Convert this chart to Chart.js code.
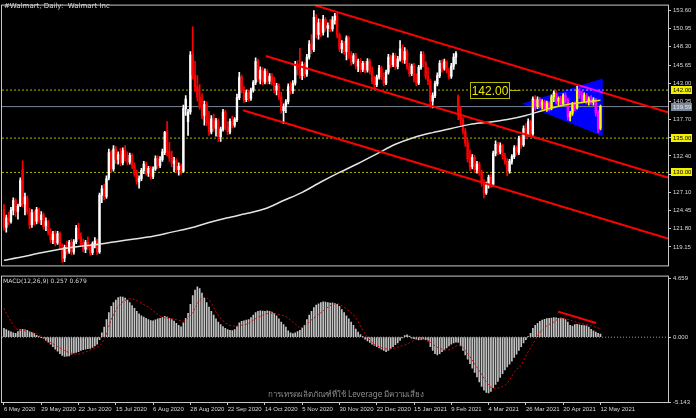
<!DOCTYPE html>
<html>
<head>
<meta charset="utf-8">
<script src="https://cdn.jsdelivr.net/npm/chart.js@4.4.1/dist/chart.umd.min.js"></script>
<style>
  html, body { margin: 0; padding: 0; background: #000; }
  #wrap { position: relative; width: 696px; height: 418px; background: #000; overflow: hidden; }
  #wrap canvas { position: absolute; left: 0; }
  #priceChart { top: 0; }
  #macdChart { top: 271px; }
</style>
</head>
<body>
<div id="wrap">
  <canvas id="priceChart" width="696" height="271"></canvas>
  <canvas id="macdChart" width="696" height="147"></canvas>
</div>
<script>
// daily bars, 6 May 2020 .. 12 May 2021 (index = bar number)
var opens = [
  124.6,122.0,123.4,122.9,124.5,125.9,124.3,125.2,130.4,125.4,
  126.2,124.3,122.4,124.0,122.9,124.5,123.1,123.8,122.2,122.8,
  121.3,120.2,121.0,119.7,121.0,119.3,117.5,119.0,118.5,119.8,
  118.4,119.9,121.9,120.6,119.7,118.8,119.8,119.0,118.3,119.6,
  120.0,118.4,126.7,127.6,126.5,129.2,132.9,130.5,133.4,131.9,
  132.6,131.4,133.2,132.1,131.5,132.5,131.0,129.8,128.6,129.1,
  130.3,131.2,129.9,130.6,129.4,130.5,132.0,131.0,131.9,132.9,
  136.0,133.0,132.2,131.3,131.7,130.4,130.9,130.2,139.3,137.4,
  138.8,147.3,144.2,142.5,141.0,139.6,138.3,139.9,137.3,135.9,
  137.8,136.4,137.5,135.2,136.3,138.8,136.6,135.9,137.4,136.9,
  137.7,140.9,143.9,142.0,140.6,141.6,140.8,142.0,143.1,146.2,
  143.6,144.9,143.2,144.7,143.3,144.0,143.1,142.0,142.6,141.0,
  139.0,139.6,140.3,142.5,141.9,143.0,145.8,145.0,144.1,145.7,
  144.3,146.8,148.7,147.9,152.6,150.1,151.8,150.4,152.3,151.0,
  151.4,150.9,152.2,152.8,150.0,148.0,148.8,147.6,149.6,147.0,
  146.1,147.0,145.5,146.2,145.0,145.9,144.9,146.2,144.7,143.3,
  142.8,143.9,145.2,143.9,143.0,144.6,146.8,145.7,147.0,145.4,
  146.5,148.0,146.4,147.6,145.4,144.4,145.5,143.6,143.0,145.3,
  147.2,145.9,144.0,143.3,140.4,141.2,142.9,144.1,145.9,145.2,
  146.1,144.8,144.0,145.5,146.8,141.0,138.3,137.6,136.0,134.3,
  132.0,130.8,132.2,130.4,131.2,130.0,128.5,127.0,128.2,129.3,
  128.3,132.8,134.1,133.0,133.9,132.4,131.6,130.2,131.6,132.3,
  133.6,132.9,135.0,134.0,136.4,135.5,137.4,135.6,140.7,139.6,
  140.6,139.8,140.3,139.3,140.1,139.4,141.0,141.6,140.4,140.8,
  140.0,141.2,140.5,138.1,138.6,139.9,139.4,141.9,141.3,140.5,
  141.2,140.4,140.7,140.2,140.6,138.7,136.4
];
var highs = [
  125.3,123.8,124.2,124.9,126.3,126.2,125.4,129.2,131.7,127.0,
  126.6,124.8,124.6,124.4,124.9,124.8,124.3,124.1,123.4,123.0,
  121.8,121.4,121.5,121.4,121.3,119.6,119.4,120.0,120.1,120.3,
  120.2,122.3,122.6,121.2,120.3,120.1,120.6,119.5,119.9,120.5,
  120.3,127.0,128.1,128.3,129.5,133.4,133.2,133.9,133.8,133.0,
  133.5,133.6,133.9,133.0,132.8,132.7,131.4,130.3,129.5,130.6,
  131.6,131.5,130.9,130.9,130.8,132.4,132.4,132.3,133.4,136.0,
  137.4,134.4,133.1,132.2,132.0,131.4,131.2,139.8,141.2,139.2,
  147.6,151.2,146.2,144.1,142.8,141.5,140.4,140.3,138.9,138.3,
  138.5,137.9,137.8,136.6,139.2,139.1,137.4,137.8,138.2,138.0,
  141.4,144.6,144.2,142.5,142.0,142.0,142.3,143.4,146.7,146.5,
  145.4,145.3,145.1,145.0,144.4,144.4,143.9,143.0,142.9,141.7,
  140.0,140.6,142.9,143.2,143.4,146.2,146.3,148.1,146.1,146.0,
  147.2,149.2,150.1,153.6,153.0,152.4,152.3,152.9,152.6,151.8,
  152.3,152.7,153.2,153.2,150.3,149.2,149.1,149.9,149.8,147.6,
  147.3,147.4,146.5,146.6,146.2,146.2,146.6,146.5,145.4,144.0,
  144.2,145.6,145.5,144.5,144.9,147.2,147.1,147.4,147.3,146.9,
  149.2,148.6,148.2,147.9,145.9,145.8,145.9,144.4,145.6,147.6,
  147.6,146.2,145.3,143.6,141.6,143.3,144.5,146.3,146.4,146.5,
  146.3,145.2,145.9,147.3,147.6,141.3,139.6,138.0,136.4,134.8,
  133.3,132.6,132.5,131.6,131.5,130.3,129.0,128.6,129.6,129.7,
  133.1,134.6,134.4,134.3,134.1,132.8,132.0,131.9,132.6,133.9,
  133.9,135.3,135.4,136.8,137.1,137.8,137.6,141.0,141.2,141.0,
  140.9,140.6,140.5,140.4,140.3,141.3,141.9,141.9,141.0,141.1,
  141.5,141.6,140.8,138.9,140.2,140.3,142.6,142.2,141.8,141.6,
  141.5,141.0,141.2,140.9,140.8,139.0,139.8
];
var lows = [
  121.6,121.3,122.4,122.6,123.8,123.6,123.2,125.0,125.0,123.8,
  123.9,121.8,122.0,122.3,122.5,122.6,122.4,121.7,121.5,120.9,
  119.8,119.6,119.3,119.5,118.9,116.9,117.0,118.1,118.2,118.0,
  118.1,119.6,120.3,119.4,118.4,118.3,118.7,117.9,118.0,119.0,
  118.0,118.2,125.6,126.0,126.2,128.9,130.0,130.2,131.3,131.2,
  131.0,131.1,131.7,131.1,131.2,130.6,129.4,128.3,127.7,128.8,
  129.8,129.6,129.4,129.0,129.1,130.3,130.6,130.7,131.6,132.6,
  132.4,131.6,130.8,130.1,130.0,129.6,129.7,130.0,138.3,135.4,
  138.5,143.6,141.8,140.4,139.2,137.8,136.9,136.8,135.4,135.6,
  136.0,135.3,134.5,134.5,136.0,136.2,135.5,135.6,136.5,136.6,
  137.4,140.6,141.6,140.2,140.3,140.4,140.5,141.7,142.8,143.2,
  142.9,142.8,142.9,142.9,142.9,142.7,141.6,141.3,140.6,138.6,
  137.1,138.7,140.0,141.4,141.5,142.7,144.2,143.7,143.5,143.8,
  144.0,146.5,147.3,147.6,149.6,149.4,149.8,150.0,150.6,149.7,
  150.5,150.6,151.6,149.6,147.6,147.4,147.2,146.4,146.6,145.6,
  145.8,145.1,144.7,144.6,144.7,144.5,144.6,144.3,142.9,142.2,
  142.5,143.6,143.5,142.6,142.8,144.3,145.3,145.4,145.0,145.1,
  146.2,146.0,145.9,145.0,144.0,144.1,143.2,142.6,142.8,145.0,
  145.4,143.6,142.8,139.4,139.4,140.9,142.6,143.8,144.6,144.9,
  144.5,143.6,143.7,145.0,145.8,137.7,137.0,135.6,133.8,131.5,
  130.3,130.5,130.0,129.9,129.6,128.0,126.3,126.8,127.7,127.8,
  128.0,132.4,132.6,132.7,132.0,131.2,129.5,129.9,131.2,132.0,
  132.5,132.6,133.5,133.8,134.9,135.3,135.2,135.4,139.0,139.3,
  139.4,139.2,139.0,138.9,139.0,139.1,140.3,140.0,139.6,139.7,
  139.8,140.1,137.6,137.5,138.3,139.0,139.2,140.8,140.1,140.2,
  140.0,139.8,139.9,139.8,138.2,135.8,136.2
];
var closes = [
  122.0,123.4,122.8,124.5,125.9,124.2,125.1,128.8,125.5,126.4,
  124.3,122.3,124.1,122.8,124.6,123.0,123.8,122.1,122.9,121.3,
  120.2,121.0,119.7,121.1,119.3,117.4,119.1,118.5,119.8,118.4,
  119.9,121.9,120.6,119.7,118.8,119.8,119.1,118.3,119.6,120.0,
  118.4,126.7,127.6,126.5,129.1,132.9,130.5,133.4,131.9,132.6,
  131.4,133.2,132.1,131.5,132.5,131.0,129.8,128.6,129.1,130.3,
  131.2,129.9,130.6,129.4,130.5,132.0,131.0,131.9,133.0,135.8,
  133.0,132.2,131.3,131.7,130.4,130.9,130.1,139.3,140.7,138.8,
  147.1,144.2,142.5,141.0,139.6,138.3,139.9,137.3,135.9,137.8,
  136.4,137.5,135.2,136.3,138.8,136.6,135.9,137.4,136.9,137.7,
  140.9,143.9,142.0,140.6,141.6,140.8,142.0,143.1,146.2,143.6,
  144.9,143.2,144.7,143.3,144.0,143.1,142.0,142.6,141.0,139.0,
  139.6,140.3,142.5,141.9,143.0,145.8,145.0,144.1,145.7,144.3,
  146.8,148.7,147.9,152.6,150.1,151.8,150.4,152.3,151.0,151.4,
  150.9,152.2,152.8,150.0,148.0,148.8,147.6,149.6,147.0,146.1,
  147.0,145.5,146.2,145.0,145.9,144.9,146.2,144.7,143.3,142.8,
  143.9,145.2,143.9,143.0,144.6,146.8,145.7,147.0,145.4,146.5,
  148.0,146.4,147.6,145.4,144.4,145.5,143.6,143.0,145.3,147.2,
  145.9,144.0,143.3,140.4,141.2,142.9,144.1,145.9,145.2,146.1,
  144.8,144.0,145.5,146.8,147.3,138.3,137.6,136.0,134.3,132.0,
  130.8,132.2,130.4,131.2,130.0,128.5,127.0,128.2,129.3,128.3,
  132.8,134.1,133.0,133.9,132.4,131.6,130.2,131.6,132.3,133.6,
  132.9,135.0,134.0,136.4,135.5,137.4,135.6,140.7,139.6,140.6,
  139.8,140.3,139.3,140.1,139.4,141.0,141.6,140.4,140.8,140.0,
  141.2,140.5,138.1,138.6,139.9,139.4,141.9,141.3,140.5,141.2,
  140.4,140.7,140.2,140.6,138.7,136.4,139.6
];

// 200 period moving average, read every 8 bars
var maBars = [0,8,16,24,32,40,48,56,64,72,80,88,96,104,112,120,128,136,144,152,160,168,176,184,192,200,208,216,224,232,240,248,256];
var maValues = [117.2,117.7,118.3,118.8,119.2,119.5,119.9,120.3,120.7,121.3,121.9,122.7,123.4,124.0,124.7,125.9,127.1,128.6,130.0,131.3,132.7,134.1,135.1,135.8,136.4,137.0,137.3,137.7,138.3,139.1,139.8,140.2,140.5];

// MACD(12,26,9): main (histogram) and signal
var macdMain = [
  0.70,0.60,0.50,0.42,0.35,0.30,0.45,0.60,0.62,0.58,
  0.55,0.45,0.38,0.28,0.15,0.05,-0.02,-0.10,-0.25,-0.40,
  -0.55,-0.75,-0.95,-1.10,-1.30,-1.45,-1.52,-1.50,-1.48,-1.35,
  -1.25,-1.20,-1.15,-1.05,-0.98,-0.95,-0.92,-0.90,-0.82,-0.70,
  -0.55,-0.20,0.35,0.80,1.40,1.95,2.45,2.75,2.95,3.15,
  3.20,3.18,3.10,2.95,2.75,2.50,2.30,2.05,1.85,1.70,
  1.60,1.50,1.40,1.32,1.30,1.38,1.45,1.50,1.55,1.65,
  1.60,1.50,1.40,1.28,1.10,0.95,0.82,1.15,1.50,1.90,
  2.60,3.30,3.75,4.00,3.85,3.50,3.10,2.75,2.40,2.05,
  1.75,1.45,1.20,1.00,0.85,0.70,0.60,0.55,0.52,0.60,
  0.85,1.15,1.25,1.30,1.35,1.40,1.55,1.75,1.95,2.05,
  2.10,2.08,2.05,2.10,2.05,2.00,1.90,1.70,1.45,1.20,
  1.00,0.80,0.50,0.35,0.28,0.35,0.45,0.55,0.75,0.95,
  1.40,1.75,2.05,2.35,2.55,2.65,2.75,2.80,2.78,2.75,
  2.70,2.72,2.68,2.60,2.45,2.20,1.95,1.70,1.45,1.20,
  0.95,0.65,0.40,0.20,0.02,-0.15,-0.30,-0.42,-0.55,-0.65,
  -0.75,-0.85,-0.95,-1.05,-1.15,-1.05,-0.90,-0.75,-0.60,-0.45,
  -0.25,-0.05,0.12,0.18,0.08,-0.08,-0.12,-0.18,-0.22,-0.20,
  -0.15,-0.20,-0.30,-0.75,-1.05,-1.30,-1.40,-1.30,-1.15,-1.00,
  -0.85,-0.70,-0.55,-0.45,-0.40,-0.42,-0.70,-1.05,-1.40,-1.75,
  -2.10,-2.45,-2.80,-3.15,-3.55,-3.90,-4.20,-4.38,-4.42,-4.30,
  -4.00,-3.75,-3.50,-3.20,-2.90,-2.60,-2.35,-2.15,-1.90,-1.60,
  -1.35,-1.05,-0.75,-0.45,-0.20,0.05,0.30,0.70,0.95,1.10,
  1.25,1.35,1.42,1.48,1.50,1.52,1.55,1.53,1.50,1.52,
  1.50,1.40,1.20,0.95,0.88,1.00,1.02,0.98,0.95,0.92,
  0.90,0.80,0.62,0.50,0.40,0.30,0.257
];
var macdSignal = [
  2.29,1.90,1.55,1.25,0.95,0.70,0.60,0.55,0.52,0.50,
  0.47,0.43,0.40,0.35,0.28,0.18,0.06,-0.08,-0.20,-0.32,
  -0.42,-0.52,-0.63,-0.74,-0.85,-0.96,-1.06,-1.15,-1.22,-1.28,
  -1.33,-1.35,-1.34,-1.30,-1.25,-1.18,-1.10,-1.02,-0.95,-0.88,
  -0.80,-0.70,-0.50,-0.13,0.30,0.85,1.40,1.80,2.15,2.45,
  2.65,2.80,2.92,3.00,3.05,3.05,3.00,2.90,2.80,2.70,
  2.58,2.48,2.40,2.25,2.10,1.95,1.80,1.68,1.58,1.53,
  1.52,1.50,1.48,1.45,1.40,1.35,1.30,1.27,1.35,1.55,
  1.75,1.95,2.30,2.65,2.95,3.12,3.18,3.15,3.00,2.70,
  2.35,2.00,1.75,1.50,1.30,1.15,1.02,0.93,0.89,0.88,
  0.90,0.92,0.95,0.98,1.02,1.10,1.22,1.35,1.48,1.58,
  1.65,1.75,1.82,1.87,1.90,1.91,1.90,1.85,1.80,1.75,
  1.70,1.62,1.50,1.35,1.20,1.05,0.90,0.72,0.75,0.90,
  1.05,1.20,1.38,1.52,1.65,1.80,1.95,2.10,2.25,2.38,
  2.50,2.60,2.65,2.67,2.62,2.50,2.38,2.25,2.10,1.95,
  1.80,1.55,1.25,0.90,0.55,0.25,0.00,-0.22,-0.42,-0.58,
  -0.68,-0.76,-0.82,-0.88,-0.92,-0.94,-0.94,-0.90,-0.84,-0.78,
  -0.72,-0.66,-0.62,-0.55,-0.45,-0.35,-0.25,-0.16,-0.13,-0.14,
  -0.16,-0.18,-0.25,-0.40,-0.55,-0.68,-0.80,-0.89,-0.95,-1.00,
  -1.02,-1.00,-0.92,-0.80,-0.70,-0.64,-0.68,-0.82,-1.05,-1.30,
  -1.55,-1.80,-2.10,-2.40,-2.67,-2.95,-3.25,-3.55,-3.80,-3.98,
  -4.05,-4.07,-4.05,-3.98,-3.90,-3.82,-3.65,-3.40,-3.10,-2.78,
  -2.55,-2.42,-2.20,-1.85,-1.50,-1.15,-0.85,-0.55,-0.20,0.10,
  0.38,0.58,0.75,0.90,1.02,1.12,1.20,1.35,1.48,1.53,
  1.52,1.48,1.42,1.36,1.30,1.25,1.18,1.12,1.08,1.04,
  1.02,0.98,0.92,0.86,0.80,0.74,0.679
];

// drawn objects
var levels = [142.00, 135.00, 130.00];
var bidPrice = 139.59;
var chanX0 = [133.5, 112.4, 102.6];
var chanY0 = [154.35, 146.96, 139.05];
var chanX1 = [285, 285, 285];
var chanY1 = [138.77, 129.26, 120.37];
var triX = [222.2, 257.0, 257.0];
var triY = [140.0, 143.67, 135.28];
var tagBar = 200, tagPrice = 142.00;
var divX = [237.9, 254.1];
var divY = [2.03, 1.13];

// axes
var dateLabels = ['6 May 2020','29 May 2020','22 Jun 2020','15 Jul 2020','6 Aug 2020','28 Aug 2020','22 Sep 2020','14 Oct 2020','5 Nov 2020','30 Nov 2020','22 Dec 2020','15 Jan 2021','9 Feb 2021','4 Mar 2021','26 Mar 2021','20 Apr 2021','12 May 2021'];
var priceTicks = [153.60,150.95,148.30,145.65,143.00,140.35,137.70,135.05,132.40,129.75,127.10,124.45,121.80,119.15];
var macdTicks = [4.659, 0, -5.143];

var X_MIN = -0.85, X_MAX = 285;
var AXIS_FONT = { family: 'Liberation Sans', size: 6 };
var TXT = '#d8d8d8';

var candleColors = opens.map(function (o, i) { return closes[i] >= o ? '#ffffff' : '#ff0000'; });

var blackBg = {
  id: 'blackBg',
  beforeDraw: function (chart) {
    var ctx = chart.ctx;
    ctx.save();
    ctx.fillStyle = '#000';
    ctx.fillRect(0, 0, chart.width, chart.height);
    ctx.restore();
  },
  afterDraw: function (chart) {
    var ctx = chart.ctx, a = chart.chartArea;
    ctx.save();
    ctx.strokeStyle = '#c8c8c8';
    ctx.lineWidth = 1;
    ctx.strokeRect(a.left - 0.5, a.top - 0.5, a.right - a.left + 1, a.bottom - a.top + 1);
    ctx.restore();
  }
};

var triangle = {
  id: 'triangle',
  afterDatasetsDraw: function (chart) {
    var ctx = chart.ctx, a = chart.chartArea, xs = chart.scales.x, ys = chart.scales.y;
    ctx.save();
    ctx.beginPath();
    ctx.rect(a.left, a.top, a.right - a.left, a.bottom - a.top);
    ctx.clip();
    ctx.globalCompositeOperation = 'difference';
    ctx.fillStyle = '#0000ff';
    ctx.beginPath();
    triX.forEach(function (v, k) {
      var px = xs.getPixelForValue(v), py = ys.getPixelForValue(triY[k]);
      if (k) ctx.lineTo(px, py); else ctx.moveTo(px, py);
    });
    ctx.closePath();
    ctx.fill();
    ctx.restore();
  }
};

function axisTag(ctx, x, y, text, bg, fg) {
  ctx.fillStyle = bg;
  ctx.fillRect(x, Math.round(y) - 4, 21, 8);
  ctx.fillStyle = fg;
  ctx.font = '6px "Liberation Sans"';
  ctx.textBaseline = 'middle';
  ctx.textAlign = 'left';
  ctx.fillText(text, x + 2, Math.round(y) + 0.5);
}

var priceLabels = {
  id: 'priceLabels',
  afterDraw: function (chart) {
    var ctx = chart.ctx, a = chart.chartArea, xs = chart.scales.x, ys = chart.scales.y;
    ctx.save();
    // title
    ctx.fillStyle = TXT;
    ctx.font = '7px "DejaVu Sans"';
    ctx.textBaseline = 'middle';
    ctx.fillText('#Walmart, Daily:  Walmart Inc', 4, 6);
    // horizontal line tag on chart
    var lx = Math.round(xs.getPixelForValue(tagBar)) + 0.5;
    var ly = Math.round(ys.getPixelForValue(tagPrice)) + 0.5;
    ctx.fillStyle = '#000';
    ctx.fillRect(lx, ly - 8, 39, 16);
    ctx.strokeStyle = '#b8b800';
    ctx.lineWidth = 1;
    ctx.strokeRect(lx, ly - 8, 39, 16);
    ctx.beginPath();
    ctx.moveTo(lx + 39, ly);
    ctx.lineTo(lx + 50, ly);
    ctx.stroke();
    ctx.fillStyle = '#e8e800';
    ctx.font = '12px "Liberation Sans"';
    ctx.textAlign = 'center';
    ctx.fillText(tagPrice.toFixed(2), lx + 19.5, ly + 1);
    // axis tags
    levels.forEach(function (lv) {
      axisTag(ctx, a.right + 3, ys.getPixelForValue(lv), lv.toFixed(2), '#f0f000', '#000');
    });
    axisTag(ctx, a.right + 3, ys.getPixelForValue(bidPrice), bidPrice.toFixed(2), '#7a8699', '#e8e8e8');
    ctx.restore();
  }
};

var macdLabels = {
  id: 'macdLabels',
  afterDraw: function (chart) {
    var ctx = chart.ctx, a = chart.chartArea;
    ctx.save();
    ctx.fillStyle = TXT;
    ctx.font = '6px "DejaVu Sans"';
    ctx.textBaseline = 'middle';
    ctx.fillText('MACD(12,26,9) 0.257 0.679', a.left + 1, a.top + 5);
    ctx.fillStyle = '#8c8c8c';
    ctx.font = '8px "Noto Sans", "DejaVu Sans", sans-serif';
    ctx.fillText('การเทรดผลิตภัณฑ์ที่ใช้ Leverage มีความเสี่ยง', 268, 124);
    ctx.restore();
  }
};

function flatLine(v) { return [{ x: X_MIN, y: v }, { x: X_MAX, y: v }]; }

var priceDatasets = [];
chanX0.forEach(function (x0, k) {
  priceDatasets.push({
    type: 'line', label: 'channel ' + (k + 1),
    data: [{ x: x0, y: chanY0[k] }, { x: chanX1[k], y: chanY1[k] }],
    borderColor: '#ff0000', borderWidth: 2, pointRadius: 0, order: 1
  });
});
priceDatasets.push({
  type: 'line', label: 'MA 200',
  data: maBars.map(function (b, k) { return { x: b, y: maValues[k] }; }),
  borderColor: '#e4e4e4', borderWidth: 1.5, pointRadius: 0, tension: 0.3, order: 2
});
priceDatasets.push({
  type: 'bar', label: 'body',
  data: opens.map(function (o, i) { return { x: i, y: [o, closes[i]] }; }),
  backgroundColor: candleColors, barThickness: 1.7, grouped: false, minBarLength: 1, order: 3
});
priceDatasets.push({
  type: 'bar', label: 'wick',
  data: lows.map(function (l, i) { return { x: i, y: [l, highs[i]] }; }),
  backgroundColor: candleColors, barThickness: 1, grouped: false, order: 4
});
levels.forEach(function (lv) {
  priceDatasets.push({
    type: 'line', label: 'level ' + lv, data: flatLine(lv),
    borderColor: '#b4b400', borderWidth: 1, borderDash: [2, 2], pointRadius: 0, order: 5
  });
});
priceDatasets.push({
  type: 'line', label: 'bid', data: flatLine(bidPrice),
  borderColor: '#7a8699', borderWidth: 1, pointRadius: 0, order: 6
});

new Chart(document.getElementById('priceChart'), {
  type: 'bar',
  data: { datasets: priceDatasets },
  plugins: [blackBg, triangle, priceLabels],
  options: {
    responsive: false,
    animation: false,
    events: [],
    devicePixelRatio: 1,
    layout: { padding: { left: 2, top: 2, right: 0, bottom: 1 } },
    plugins: { legend: { display: false }, tooltip: { enabled: false } },
    scales: {
      x: { type: 'linear', min: X_MIN, max: X_MAX, offset: false, display: false, grid: { offset: false } },
      y: {
        position: 'right', min: 116.45, max: 154.31,
        afterBuildTicks: function (s) { s.ticks = priceTicks.map(function (v) { return { value: v }; }); },
        afterFit: function (s) { s.width = 28; },
        border: { display: false },
        grid: { drawOnChartArea: false, drawTicks: true, tickLength: 3, color: '#c8c8c8' },
        ticks: { color: TXT, font: AXIS_FONT, padding: 2, callback: function (v) { return Number(v).toFixed(2); } }
      }
    }
  }
});

new Chart(document.getElementById('macdChart'), {
  type: 'bar',
  data: {
    datasets: [
      { type: 'line', label: 'divergence', data: divX.map(function (x, k) { return { x: x, y: divY[k] }; }),
        borderColor: '#ff0000', borderWidth: 2, pointRadius: 0, order: 0 },
      { type: 'line', label: 'signal', data: macdSignal.map(function (v, i) { return { x: i, y: v }; }),
        borderColor: '#d80000', borderWidth: 1, borderDash: [2, 2], pointRadius: 0, order: 1 },
      { type: 'bar', label: 'MACD', data: macdMain.map(function (v, i) { return { x: i, y: v }; }),
        backgroundColor: '#c4c4c4', barThickness: 1, grouped: false, order: 2 },
      { type: 'line', label: 'zero', data: flatLine(0),
        borderColor: '#9a9a9a', borderWidth: 1, borderDash: [1, 2], pointRadius: 0, order: 3 }
    ]
  },
  plugins: [blackBg, macdLabels],
  options: {
    responsive: false,
    animation: false,
    events: [],
    devicePixelRatio: 1,
    layout: { padding: { left: 2, top: 1, right: 0, bottom: 0 } },
    plugins: { legend: { display: false }, tooltip: { enabled: false } },
    scales: {
      x: {
        type: 'linear', min: X_MIN, max: X_MAX, offset: false, position: 'bottom',
        afterBuildTicks: function (s) { s.ticks = dateLabels.map(function (_, k) { return { value: k * 16 }; }); },
        afterFit: function (s) { s.height = 16; },
        border: { display: false },
        grid: { offset: false, drawOnChartArea: false, drawTicks: true, tickLength: 3, color: '#c8c8c8' },
        ticks: { color: TXT, font: AXIS_FONT, padding: 1, align: 'start', autoSkip: false, maxRotation: 0,
          callback: function (v, idx) { return dateLabels[idx]; } }
      },
      y: {
        position: 'right', min: -5.143, max: 4.81,
        afterBuildTicks: function (s) { s.ticks = macdTicks.map(function (v) { return { value: v }; }); },
        afterFit: function (s) { s.width = 28; },
        border: { display: false },
        grid: { drawOnChartArea: false, drawTicks: true, tickLength: 3, color: '#c8c8c8' },
        ticks: { color: TXT, font: AXIS_FONT, padding: 2, callback: function (v) { return Number(v).toFixed(3); } }
      }
    }
  }
});
</script>
</body>
</html>
